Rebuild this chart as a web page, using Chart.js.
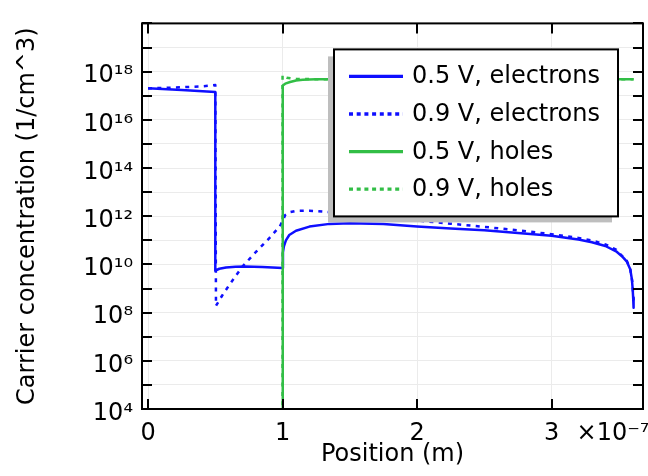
<!DOCTYPE html>
<html><head><meta charset="utf-8">
<script src="https://cdn.jsdelivr.net/npm/chart.js@4"></script>
<style>html,body{margin:0;padding:0;background:#fff}canvas{display:block}</style>
</head><body>
<canvas id="c" width="648" height="476"></canvas>
<script>
// Positions are in units of 1e-7 m (axis shows ×10^-7)
const elec05X = [0, 0.25, 0.5, 0.5, 0.53, 0.58, 0.65, 0.72, 0.85, 1.0, 1.003, 1.01, 1.025, 1.05, 1.1, 1.2, 1.35, 1.5, 1.75, 2.0, 2.25, 2.5, 2.75, 3.0, 3.2, 3.3, 3.4, 3.48, 3.53, 3.56, 3.585, 3.597, 3.603, 3.607, 3.61];
const elec05Y = [2.04e17, 1.74e17, 1.41e17, 5.5e9, 6.6e9, 7.4e9, 7.9e9, 8.1e9, 7.8e9, 7.1e9, 3.2e10, 5.6e10, 1.0e11, 1.66e11, 2.5e11, 3.7e11, 4.8e11, 5.1e11, 4.7e11, 3.7e11, 3.1e11, 2.6e11, 2.0e11, 1.55e11, 1.07e11, 8.3e10, 5.8e10, 3.5e10, 2.0e10, 1.3e10, 6.3e9, 2.5e9, 1.0e9, 4.0e8, 1.6e8];

const elec09X = [0, 0.15, 0.3, 0.4, 0.5, 0.505, 0.55, 0.6, 0.7, 0.8, 0.9, 0.98, 1.0, 1.02, 1.05, 1.1, 1.2, 1.35, 1.5, 1.75, 2.0, 2.25, 2.5, 2.75, 3.0, 3.2, 3.3, 3.4, 3.48, 3.53, 3.56, 3.585, 3.6, 3.61];
const elec09Y = [2.0e17, 2.14e17, 2.3e17, 2.45e17, 2.75e17, 1.9e8, 5.0e8, 1.3e9, 7.9e9, 3.2e10, 1.2e11, 3.8e11, 6.3e11, 1.12e12, 1.45e12, 1.66e12, 1.7e12, 1.48e12, 1.23e12, 9.1e11, 6.6e11, 4.9e11, 3.6e11, 2.6e11, 1.8e11, 1.26e11, 9.8e10, 6.8e10, 4.1e10, 2.1e10, 1.4e10, 6.6e9, 2.0e9, 3.2e8];

const hole05X = [1.0, 1.0, 1.003, 1.02, 1.056, 1.1, 1.15, 1.25, 1.5, 2.0, 2.5, 3.0, 3.5, 3.61];
const hole05Y = [1e3, 2.45e17, 2.63e17, 3.16e17, 3.7e17, 4.27e17, 4.57e17, 4.8e17, 4.8e17, 4.8e17, 4.8e17, 4.8e17, 4.8e17, 4.8e17];

const hole09X = [1.0, 1.0, 1.01, 1.03, 1.06, 1.1, 1.2, 1.3, 2.0, 3.0, 3.61];
const hole09Y = [1e3, 7.1e17, 6.3e17, 5.6e17, 5.25e17, 5.0e17, 4.9e17, 4.8e17, 4.8e17, 4.8e17, 4.8e17];

const seriesLabels = ['0.5 V, electrons', '0.9 V, electrons', '0.5 V, holes', '0.9 V, holes'];
const xTickValues = [0, 1, 2, 3];
const xTickLabels = ['0', '1', '2', '3'];
const xMultiplierLabel = '×10⁻⁷';
const yTickValues = [1e4, 1e5, 1e6, 1e7, 1e8, 1e9, 1e10, 1e11, 1e12, 1e13, 1e14, 1e15, 1e16, 1e17, 1e18, 1e19, 1e20];
const yTickLabels = ['10⁴', '', '10⁶', '', '10⁸', '', '10¹⁰', '', '10¹²', '', '10¹⁴', '', '10¹⁶', '', '10¹⁸', '', ''];
const xAxisTitle = 'Position (m)';
const yAxisTitle = 'Carrier concentration (1/cm^3)';

const FONT = '"DejaVu Sans"';
Chart.defaults.font.family = FONT;
Chart.defaults.font.size = 24;
Chart.defaults.color = '#000';

const BLUE = 'rgb(15,15,255)';
const GREEN = 'rgb(50,190,70)';
const DOT = [4, 5.3];

function pts(xs, ys) { return xs.map((x, i) => ({ x: x, y: ys[i] })); }
function line(label, xs, ys, color, dash, order) {
  return { label: label, data: pts(xs, ys), borderColor: color, backgroundColor: color,
    borderWidth: 2.5, borderDash: dash, pointRadius: 0, pointHitRadius: 0, tension: 0,
    fill: false, order: order, borderCapStyle: 'butt', borderJoinStyle: 'round' };
}

const framePlugin = {
  id: 'frame',
  afterDatasetsDraw(chart) {
    const { ctx, chartArea: a, scales: { x, y } } = chart;
    ctx.save();
    ctx.strokeStyle = '#000'; ctx.lineWidth = 2; ctx.setLineDash([]);
    const TL = 10;
    ctx.beginPath();
    x.ticks.forEach(t => {
      const px = Math.round(x.getPixelForValue(t.value));
      ctx.moveTo(px, a.bottom); ctx.lineTo(px, a.bottom - TL);
      ctx.moveTo(px, a.top); ctx.lineTo(px, a.top + TL);
    });
    y.ticks.forEach(t => {
      const py = Math.round(y.getPixelForValue(t.value));
      ctx.moveTo(a.left, py); ctx.lineTo(a.left + TL, py);
      ctx.moveTo(a.right, py); ctx.lineTo(a.right - TL, py);
    });
    ctx.stroke();
    ctx.strokeRect(a.left, a.top, a.right - a.left, a.bottom - a.top);
    ctx.fillStyle = '#000'; ctx.font = '24px ' + FONT;
    ctx.textAlign = 'left'; ctx.textBaseline = 'middle';
    const last = xTickValues[xTickValues.length - 1];
    ctx.fillText(xMultiplierLabel, x.getPixelForValue(last) + 25, a.bottom + 10 + 14.4);
    ctx.restore();
  }
};

const legendPlugin = {
  id: 'boxLegend',
  afterDraw(chart) {
    const { ctx, chartArea: a } = chart;
    const W = 284, H = 167, R = a.right - 25, T = a.top + 26, L = R - W;
    ctx.save();
    ctx.fillStyle = '#bebebe'; ctx.fillRect(L - 6, T + 7, W, H - 1);
    ctx.fillStyle = '#fff'; ctx.fillRect(L, T, W, H);
    ctx.strokeStyle = '#000'; ctx.lineWidth = 2; ctx.strokeRect(L, T, W, H);
    ctx.font = '24px ' + FONT; ctx.textBaseline = 'middle'; ctx.textAlign = 'left';
    chart.data.datasets.forEach((ds, i) => {
      const cy = T + 27 + i * 37.6;
      ctx.strokeStyle = ds.borderColor; ctx.lineWidth = 3.3;
      ctx.setLineDash(ds.borderDash && ds.borderDash.length ? [4, 3.7] : []);
      ctx.beginPath(); ctx.moveTo(L + 15, cy); ctx.lineTo(L + 69, cy); ctx.stroke();
      ctx.setLineDash([]); ctx.fillStyle = '#000';
      ctx.fillText(ds.label, L + 78, cy + 0.7);
    });
    ctx.restore();
  }
};

new Chart(document.getElementById('c'), {
  type: 'line',
  data: {
    datasets: [
      line(seriesLabels[0], elec05X, elec05Y, BLUE, [], 3),
      line(seriesLabels[1], elec09X, elec09Y, BLUE, DOT, 2),
      line(seriesLabels[2], hole05X, hole05Y, GREEN, [], 1),
      line(seriesLabels[3], hole09X, hole09Y, GREEN, DOT, 0)
    ]
  },
  options: {
    responsive: false,
    animation: false,
    events: [],
    layout: { padding: { top: 8, right: 5, left: 0, bottom: 0 } },
    plugins: { legend: { display: false }, tooltip: { enabled: false } },
    scales: {
      x: {
        type: 'linear', min: -0.045, max: 3.68,
        afterBuildTicks: s => { s.ticks = xTickValues.map(v => ({ value: v })); },
        afterFit: s => { s.height = 67; },
        ticks: {
          callback: (v, i) => xTickLabels[i] !== undefined ? xTickLabels[i] : '',
          padding: 10, maxRotation: 0, minRotation: 0, autoSkip: false,
          font: { size: 24 }, color: '#000'
        },
        grid: { color: '#ebebeb', lineWidth: 1, drawTicks: false },
        border: { display: false },
        title: { display: true, text: xAxisTitle, font: { size: 24 }, color: '#000', padding: { top: 0, bottom: 6.6 } }
      },
      y: {
        type: 'logarithmic', min: 1e4, max: 1e20,
        afterBuildTicks: s => { s.ticks = yTickValues.map(v => ({ value: v })); },
        afterFit: s => { s.width = 142; },
        ticks: {
          callback: (v, i) => yTickLabels[i] !== undefined ? yTickLabels[i] : '',
          padding: 9, labelOffset: 4.5, autoSkip: false,
          font: { size: 24 }, color: '#000'
        },
        grid: { color: '#ebebeb', lineWidth: 1, drawTicks: false },
        border: { display: false },
        title: { display: true, text: yAxisTitle, font: { size: 24 }, color: '#000', padding: { top: 13, bottom: 0 } }
      }
    }
  },
  plugins: [framePlugin, legendPlugin]
});
</script>
</body></html>
